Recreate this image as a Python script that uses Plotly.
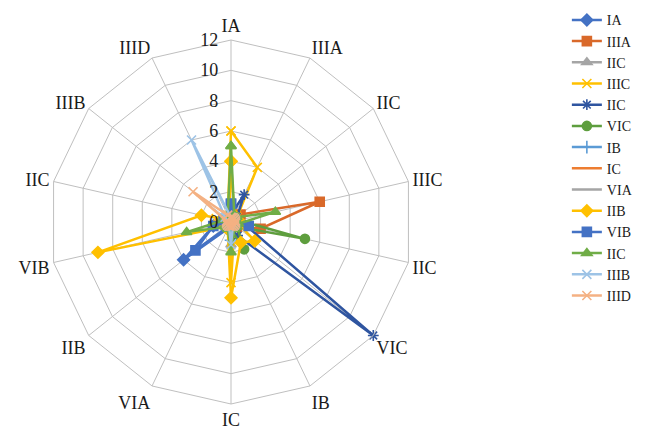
import plotly.graph_objects as go

categories = ["IA", "IIIA", "IIC", "IIIC", "IIC", "VIC", "IB", "IC",
              "VIA", "IIB", "VIB", "IIC", "IIIB", "IIID"]
series_names = ["IA", "IIIA", "IIC", "IIIC", "IIC", "VIC", "IB", "IC",
                "VIA", "IIB", "VIB", "IIC", "IIIB", "IIID"]
radial_ticks = [0, 2, 4, 6, 8, 10, 12]

# values in category order: IA, IIIA, IIC, IIIC, IIC, VIC, IB, IC, VIA, IIB, VIB, IIC, IIIB, IIID
s_IA   = [1.0, 0.5, 0.3, 0.3, 0.5, 0.3, 0.3, 0.5, 0.5, 4.0, 1.2, 0.5, 0.3, 0.3]
s_IIIA = [0.3, 0.5, 0.8, 6.0, 2.0, 0.5, 0.3, 0.2, 0.2, 0.2, 0.3, 0.3, 0.2, 0.2]
s_IIC1 = [0.5, 0.3, 0.5, 0.3, 0.3, 0.3, 0.5, 1.5, 0.5, 0.3, 0.3, 0.5, 0.3, 0.3]
s_IIIC = [6.0, 4.0, 0.5, 0.5, 0.3, 0.3, 0.5, 4.0, 0.3, 0.3, 0.5, 1.0, 0.3, 0.5]
s_IIC2 = [0.5, 2.0, 0.5, 0.5, 1.0, 12.0, 1.0, 0.5, 0.3, 0.3, 0.3, 0.3, 0.3, 0.3]
s_VIC  = [0.5, 0.3, 0.3, 0.5, 5.0, 0.5, 2.0, 0.5, 0.3, 0.3, 0.5, 0.3, 0.3, 0.3]
s_IB   = [0.5, 0.3, 0.3, 0.3, 0.3, 0.3, 0.5, 1.2, 0.5, 0.3, 0.3, 0.3, 0.3, 0.5]
s_IC   = [0.5, 0.3, 0.3, 0.5, 0.5, 0.3, 0.3, 0.5, 0.3, 0.3, 0.3, 0.5, 0.5, 0.5]
s_VIA  = [0.3, 0.3, 0.3, 0.3, 0.3, 0.3, 0.5, 0.5, 0.5, 0.3, 0.3, 0.3, 0.3, 0.3]
s_IIB  = [4.0, 0.5, 0.3, 0.5, 0.5, 2.0, 1.5, 5.0, 0.5, 0.5, 9.0, 2.0, 0.3, 0.3]
s_VIB  = [1.2, 0.3, 0.3, 0.3, 1.2, 0.3, 0.3, 0.3, 0.3, 3.0, 1.2, 0.5, 0.3, 0.3]
s_IIC3 = [5.0, 0.5, 0.5, 3.0, 0.5, 0.5, 0.5, 2.0, 0.5, 0.5, 3.0, 0.5, 0.5, 0.5]
s_IIIB = [0.3, 0.3, 0.3, 0.3, 0.3, 0.3, 0.3, 1.5, 0.3, 0.3, 0.3, 0.3, 0.5, 6.0]
s_IIID = [0.3, 0.3, 0.3, 0.3, 0.3, 0.3, 0.3, 0.3, 0.3, 0.3, 0.3, 0.3, 3.2, 0.5]

all_values = [s_IA, s_IIIA, s_IIC1, s_IIIC, s_IIC2, s_VIC, s_IB, s_IC,
              s_VIA, s_IIB, s_VIB, s_IIC3, s_IIIB, s_IIID]

colors = ["#4472C4", "#D9692A", "#A5A5A5", "#FFC000", "#2F55A0", "#5E9E3E",
          "#5B9BD5", "#ED7D31", "#A5A5A5", "#FFC000", "#4472C4", "#70AD47",
          "#9DC3E6", "#F4B183"]
symbols = ["diamond", "square", "triangle-up", "x-thin", "asterisk", "circle",
           "cross-thin", None, None, "diamond", "square", "triangle-up",
           "x-thin", "x-thin"]

# unique category keys (duplicates made distinct with zero-width spaces)
theta_keys = []
seen = {}
for c in categories:
    n = seen.get(c, 0)
    theta_keys.append(c + "\u200b" * n)
    seen[c] = n + 1

fig = go.Figure()
for name, vals, col, sym in zip(series_names, all_values, colors, symbols):
    r = vals + [vals[0]]
    th = theta_keys + [theta_keys[0]]
    if sym is None:
        mode = "lines"
        marker = dict()
    else:
        mode = "lines+markers"
        marker = dict(symbol=sym, size=9, color=col,
                      line=dict(color=col, width=1.6))
    fig.add_trace(go.Scatterpolar(r=r, theta=th, name=name, mode=mode,
                                  line=dict(color=col, width=2.5),
                                  marker=marker))

TXT = "#1a1a1a"
fig.update_layout(
    width=663, height=432,
    margin=dict(l=0, r=0, t=0, b=0),
    paper_bgcolor="white",
    font=dict(family="Liberation Serif", size=18, color=TXT),
    polar=dict(
        domain=dict(x=[49 / 663, 413 / 663], y=[28 / 432, 392 / 432]),
        bgcolor="white",
        gridshape="linear",
        angularaxis=dict(
            type="category",
            categoryarray=theta_keys,
            rotation=90, direction="clockwise",
            showline=True, linecolor="#BFBFBF", linewidth=1,
            gridcolor="#BFBFBF", gridwidth=1,
            ticks="",
            tickfont=dict(family="Liberation Serif", size=18, color=TXT),
        ),
        radialaxis=dict(
            range=[0, 12], tickvals=radial_ticks, angle=90, tickangle=90,
            side="counterclockwise",
            showline=False, gridcolor="#BFBFBF", gridwidth=1,
            ticks="outside", ticklen=6, tickcolor="rgba(0,0,0,0)",
            tickfont=dict(family="Liberation Serif", size=18, color=TXT),
        ),
    ),
    legend=dict(x=0.855, y=0.99, xanchor="left", yanchor="top",
                font=dict(family="Liberation Serif", size=14, color=TXT),
                tracegroupgap=0, itemwidth=30, bgcolor="rgba(0,0,0,0)"),
    showlegend=True,
)

fig.write_html("out.html", config={"displayModeBar": False},
               post_script="document.body.style.margin='0';")
